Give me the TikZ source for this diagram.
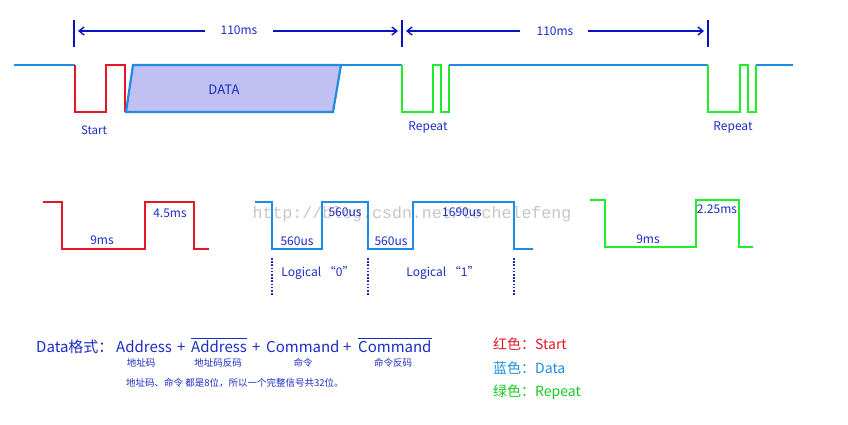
\documentclass[tikz,border=0pt]{standalone}
\usepackage{fontspec}
\setmainfont{Noto Sans CJK SC}
\newfontfamily\wmfont{Liberation Mono}
\usetikzlibrary{arrows.meta}
\definecolor{sigred}{RGB}{228,22,40}
\definecolor{sigblue}{RGB}{30,140,228}
\definecolor{siggreen}{RGB}{30,238,40}
\definecolor{txtblue}{RGB}{28,45,195}
\definecolor{dimblue}{RGB}{10,20,190}
\definecolor{datafill}{RGB}{192,192,242}
\tikzset{
  wave/.style={line width=2.2pt, line join=miter},
  wave2/.style={line width=2.8pt, line join=miter},
  lbl/.style={text=txtblue, inner sep=0pt, font=\fontsize{12}{14}\selectfont},
  dimline/.style={draw=dimblue, line width=1.6pt},
  dimtick/.style={draw=dimblue, line width=2.2pt},
  dimarrow/.style={dimline, -{Straight Barb[length=5pt,width=8pt,line width=1.4pt]}},
  fmt/.style={text=txtblue, inner sep=0pt, anchor=base west, font=\fontsize{15}{18}\selectfont},
  sub/.style={text=txtblue, inner sep=0pt, font=\fontsize{9.5}{11}\selectfont},
  leg/.style={inner sep=0pt, anchor=base west, font=\fontsize{14}{16}\selectfont},
  vdot/.style={draw=txtblue, line width=1.3pt, dash pattern=on 1.6pt off 1.6pt},
}
\begin{document}
\begin{tikzpicture}[x=1pt,y=-1pt]
\useasboundingbox (0,0) rectangle (848,425);
\fill[white] (0,0) rectangle (848,425);

% watermark
\node[text=black!22, inner sep=0pt, font=\wmfont\fontsize{16.6}{18}\selectfont] (wm) at (412,214) {http://blog.csdn.net/techelefeng};

% ---------- top timeline ----------
\draw[wave, sigblue] (14,65) -- (75,65);
\draw[wave, sigred] (75,65) -- (75,112) -- (106,112) -- (106,65) -- (125,65) -- (125,112);
\draw[wave, sigblue, fill=datafill] (133,65) -- (341,65) -- (333,112) -- (126,112) -- cycle;
\draw[wave, sigblue] (341,65) -- (402,65);
\draw[wave, siggreen] (402,65) -- (402,112) -- (433,112) -- (433,65) -- (441,65) -- (441,112) -- (449,112) -- (449,65);
\draw[wave, sigblue] (449,65) -- (708,65);
\draw[wave, siggreen] (708,65) -- (708,112) -- (740,112) -- (740,65) -- (748,65) -- (748,112) -- (756,112) -- (756,65);
\draw[wave, sigblue] (756,65) -- (793,65);
\node[lbl, font=\fontsize{13}{15}\selectfont] (data) at (224,90) {DATA};
\node[lbl, font=\fontsize{11.5}{13}\selectfont] (start) at (94,130) {Start};
\node[lbl] (rep1) at (428,127) {Repeat};
\node[lbl] (rep2) at (733,127) {Repeat};

% dimension
\coordinate (t1a) at (74,20); \coordinate (t1b) at (74,47);
\coordinate (t2a) at (402,20); \coordinate (t2b) at (402,47);
\coordinate (t3a) at (708,20); \coordinate (t3b) at (708,47);
\draw[dimtick] (t1a) -- (t1b);
\draw[dimtick] (t2a) -- (t2b);
\draw[dimtick] (t3a) -- (t3b);
\node[lbl] (d1) at (239,30) {110ms};
\node[lbl] (d2) at (555,31) {110ms};
\coordinate (a1l) at (78,31); \coordinate (a1r) at (398,31);
\coordinate (a2l) at (406,31); \coordinate (a2r) at (704,31);
\draw[dimarrow] (205,31) -- (a1l);
\draw[dimarrow] (273,31) -- (a1r);
\draw[dimarrow] (520,31) -- (a2l);
\draw[dimarrow] (588,31) -- (a2r);

% ---------- second row ----------
\draw[wave2, sigred] (43,202) -- (62,202) -- (62,249) -- (145,249) -- (145,202) -- (194,202) -- (194,249) -- (209,249);
\node[lbl] (r9) at (102,240) {9ms};
\node[lbl] (r45) at (170,213) {4.5ms};

\draw[wave2, sigblue] (255,202) -- (272,202) -- (272,249) -- (322,249) -- (322,202) -- (368,202) -- (368,249) -- (413,249) -- (413,202) -- (514,202) -- (514,249) -- (533,249);
\node[lbl] (b1) at (297,241) {560us};
\node[lbl] (b2) at (345,212) {560us};
\node[lbl] (b3) at (391,241) {560us};
\node[lbl] (b4) at (462,212) {1690us};
\draw[vdot] (272,258) -- (272,296);
\draw[vdot] (368,258) -- (368,296);
\draw[vdot] (514,258) -- (514,296);
\node[lbl] (l0) at (318,273) {Logical “0”};
\node[lbl] (l1) at (443,273) {Logical “1”};

\draw[wave2, siggreen] (590,200) -- (605,200) -- (605,247) -- (696,247) -- (696,200) -- (739,200) -- (739,247) -- (753,247);
\node[lbl] (g9) at (648,239) {9ms};
\node[lbl] (g225) at (717,209) {2.25ms};

% ---------- data format ----------
\node[fmt] (df) at (36,352) {Data格式：};
\node[fmt] (f1) at (116,352) {Address};
\node[fmt] (p1) at (177,352) {+};
\node[fmt] (f2) at (191,352) {$\overline{\hbox{Address}}$};
\node[fmt] (p2) at (252,352) {+};
\node[fmt] (f3) at (266,352) {Command};
\node[fmt] (p3) at (343,352) {+};
\node[fmt] (f4) at (358,352) {$\overline{\hbox{Command}}$};
\node[sub] (s1) at (141,363) {地址码};
\node[sub] (s2) at (218,363) {地址码反码};
\node[sub] (s3) at (303,363) {命令};
\node[sub] (s4) at (393,363) {命令反码};
\node[sub, anchor=west] (note) at (126,383) {地址码、命令 都是8位，所以一个完整信号共32位。};

% ---------- legend ----------
\node[leg, text=sigred] (lg1) at (493,349) {红色：Start};
\node[leg, text=sigblue] (lg2) at (493,373) {蓝色：Data};
\node[leg, text=siggreen!85!black] (lg3) at (493,396) {绿色：Repeat};
\end{tikzpicture}
\end{document}
